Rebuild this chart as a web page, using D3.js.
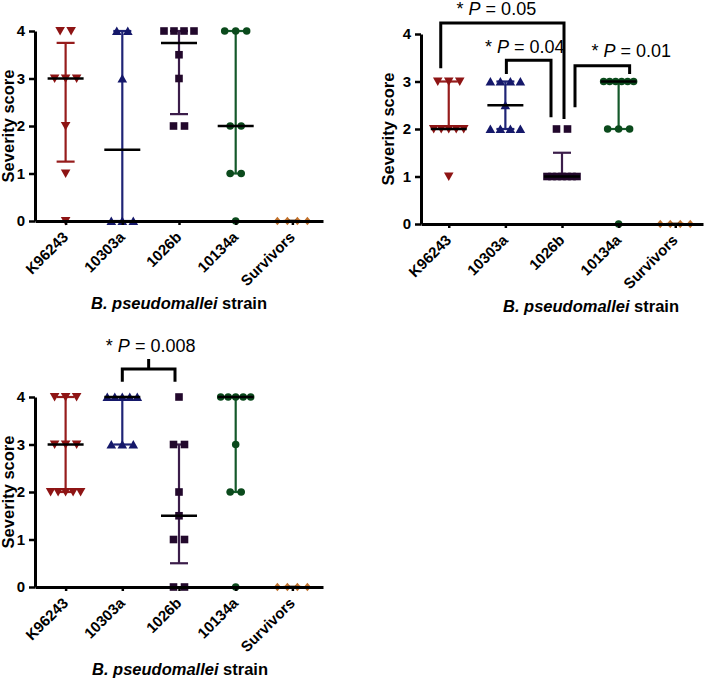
<!DOCTYPE html>
<html>
<head>
<meta charset="utf-8">
<script src="https://cdn.jsdelivr.net/npm/d3@7"></script>
<style>
  body { margin: 0; background: #fff; }
  svg { display: block; font-family: Arial, "Liberation Sans", sans-serif; }
</style>
</head>
<body>
<div id="chart"></div>
<script>
// Severity scores per strain, three experiments (A, B, C)

const categories = ['K96243', '10303a', '1026b', '10134a', 'Survivors'];
const yTicks = [0, 1, 2, 3, 4];

const scoresA = [
  [4, 4, 3, 3, 3, 2, 1, 0],
  [4, 4, 3, 0, 0, 0],
  [4, 4, 4, 4, 3.5, 3, 2, 2],
  [4, 4, 4, 2, 2, 1, 1, 0],
  [0, 0, 0, 0]
];
const medianA = [3, 1.5, 3.75, 2, 0];
const q1A = [1.25, 0, 2.25, 1, 0];
const q3A = [3.75, 4, 4, 4, 0];

const scoresB = [
  [3, 3, 3, 2, 2, 2, 2, 2, 1],
  [3, 3, 3, 3, 2.5, 2, 2, 2, 2],
  [2, 2, 1, 1, 1, 1, 1, 1, 1],
  [3, 3, 3, 3, 3, 3, 2, 2, 2, 0],
  [0, 0, 0, 0]
];
const medianB = [2, 2.5, 1, 3, 0];
const q1B = [2, 2, 1, 2, 0];
const q3B = [3, 3, 1.5, 3, 0];

const scoresC = [
  [4, 4, 4, 3, 3, 3, 2, 2, 2, 2, 2],
  [4, 4, 4, 4, 4, 3, 3, 3],
  [4, 3, 3, 2, 1.5, 1, 1, 0, 0],
  [4, 4, 4, 4, 4, 3, 2, 2, 0],
  [0, 0, 0, 0]
];
const medianC = [3, 4, 1.5, 4, 0];
const q1C = [2, 3, 0.5, 2, 0];
const q3C = [4, 4, 3, 4, 0];

// significance brackets (leg heights / top in score units)
const bracketsB = [
  { p: '0.05', from: 'K96243', to: '1026b', legFrom: 3.28, legTo: 2.21, top: 4.23, textY: 4.39 },
  { p: '0.04', from: '10303a', to: '1026b', legFrom: 3.16, legTo: 2.25, top: 3.45, textY: 3.6 },
  { p: '0.01', from: '1026b', to: '10134a', legFrom: 2.46, legTo: 3.16, top: 3.33, textY: 3.52 }
];
const bracketsC = [
  { p: '0.008', from: '10303a', to: '1026b', legFrom: 4.32, legTo: 4.32, top: 4.59, stem: 4.8, textY: 4.95 }
];

const markerColors = ['#8e1414', '#15186a', '#22082c', '#0b4a1c', '#c0702a'];
const lineColors = ['#961c1c', '#1f2476', '#3b1d4a', '#14592a', '#c0702a'];
const markerShapes = ['down', 'up', 'square', 'circle', 'diamond'];

const W = 709, H = 678;
const svg = d3.select('#chart').append('svg').attr('width', W).attr('height', H);
svg.append('rect').attr('width', W).attr('height', H).attr('fill', '#fff');

function markerPath(shape) {
  switch (shape) {
    case 'down': return 'M-4.8,-4L4.8,-4L0,4.4Z';
    case 'up': return 'M-4.8,4L4.8,4L0,-4.4Z';
    case 'square': return 'M-3.8,-3.8L3.8,-3.8L3.8,3.8L-3.8,3.8Z';
    case 'circle': return d3.symbol(d3.symbolCircle, 44)();
    case 'diamond': return 'M0,-4.2L3.6,0L0,4.2L-3.6,0Z';
  }
}

function drawPanel(cfg) {
  const { x0, x1, y0, pad, scores, median, q1, q3, titleX, ylabX } = cfg;
  const x = d3.scalePoint().domain(categories).range([x0, x1]).padding(pad);
  const y = d3.scaleLinear().domain([0, 4]).range([y0, y0 - 190]);
  const g = svg.append('g');

  // error bars (interquartile range)
  categories.forEach((c, i) => {
    const cx = x(c);
    const col = lineColors[i];
    g.append('line').attr('x1', cx).attr('x2', cx).attr('y1', y(q1[i])).attr('y2', y(q3[i]))
      .attr('stroke', col).attr('stroke-width', 2.2);
    [q1[i], q3[i]].forEach(v => {
      g.append('line').attr('x1', cx - 9).attr('x2', cx + 9).attr('y1', y(v)).attr('y2', y(v))
        .attr('stroke', col).attr('stroke-width', 2.2);
    });
  });

  // scatter points, spread sideways when they share a score
  categories.forEach((c, i) => {
    const groups = d3.group(scores[i], v => v);
    groups.forEach((vals, v) => {
      const k = vals.length;
      const step = k > 1 ? Math.min(11, 30 / (k - 1)) : 0;
      vals.forEach((_, j) => {
        const px = x(c) + (j - (k - 1) / 2) * step;
        g.append('path').attr('d', markerPath(markerShapes[i]))
          .attr('transform', `translate(${px},${y(v)})`)
          .attr('fill', markerColors[i]);
      });
    });
  });

  // medians
  categories.forEach((c, i) => {
    const cx = x(c);
    const hw = i === 4 ? 4 : 18;
    g.append('line').attr('x1', cx - hw).attr('x2', cx + hw).attr('y1', y(median[i])).attr('y2', y(median[i]))
      .attr('stroke', '#000').attr('stroke-width', 2.5);
  });

  // axes
  const yAxis = g.append('g').attr('transform', `translate(${x0},0)`)
    .call(d3.axisLeft(y).tickValues(yTicks).tickFormat(d3.format('d')).tickSize(6).tickSizeOuter(0).tickPadding(4));
  const xAxis = g.append('g').attr('transform', `translate(0,${y0})`)
    .call(d3.axisBottom(x).tickSize(4).tickSizeOuter(0));
  [yAxis, xAxis].forEach(a => {
    a.select('.domain').attr('stroke-width', 3).attr('stroke', '#000');
    a.selectAll('.tick line').attr('stroke-width', 2.5).attr('stroke', '#000');
    a.selectAll('text').attr('fill', '#000').attr('font-weight', 'bold').attr('font-size', 15)
      .attr('font-family', 'Arial, "Liberation Sans", sans-serif');
  });
  xAxis.selectAll('.tick text')
    .attr('x', 0).attr('y', 0).attr('dy', 0)
    .attr('text-anchor', 'end')
    .attr('transform', 'translate(3,17) rotate(-45)');

  // axis titles
  g.append('text').attr('transform', `translate(${ylabX},${y0 - 95}) rotate(-90)`)
    .attr('text-anchor', 'middle').attr('font-weight', 'bold').attr('font-size', 16.5)
    .text('Severity score');
  const t = g.append('text').attr('x', titleX).attr('y', y0 + 88)
    .attr('text-anchor', 'middle').attr('font-weight', 'bold').attr('font-size', 16.5);
  t.append('tspan').attr('font-style', 'italic').text('B. pseudomallei');
  t.append('tspan').text(' strain');

  // significance brackets
  (cfg.brackets || []).forEach(b => {
    const xa = x(b.from) + (b.dxFrom || 0), xb = x(b.to) + (b.dxTo || 0);
    let d = `M${xa},${y(b.legFrom)}V${y(b.top)}H${xb}V${y(b.legTo)}`;
    if (b.stem) d += `M${(xa + xb) / 2},${y(b.top)}V${y(b.stem)}`;
    g.append('path').attr('d', d).attr('fill', 'none').attr('stroke', '#000').attr('stroke-width', 3);
    const tx = (xa + xb) / 2 + (b.textDx || 0);
    const lab = g.append('text').attr('x', tx).attr('y', y(b.textY))
      .attr('text-anchor', 'middle').attr('font-size', 18);
    lab.append('tspan').text('* ');
    lab.append('tspan').attr('font-style', 'italic').text('P');
    lab.append('tspan').text(' = ' + b.p);
  });
}

// horizontal nudges for bracket legs (px)
bracketsB[0].dxFrom = -8; bracketsB[0].dxTo = 2; bracketsB[0].textDx = -6;
bracketsB[1].dxFrom = 1; bracketsB[1].dxTo = -11; bracketsB[1].textDx = -4;
bracketsB[2].dxFrom = 13; bracketsB[2].dxTo = 11; bracketsB[2].textDx = 29;
bracketsC[0].dxFrom = 0; bracketsC[0].dxTo = -4; bracketsC[0].textDx = 2;

drawPanel({ x0: 35, x1: 323, y0: 221, pad: 0.54, scores: scoresA, median: medianA, q1: q1A, q3: q3A, titleX: 179, ylabX: 14, brackets: [] });
drawPanel({ x0: 421, x1: 703, y0: 224, pad: 0.49, scores: scoresB, median: medianB, q1: q1B, q3: q3B, titleX: 591, ylabX: 394, brackets: bracketsB });
drawPanel({ x0: 35, x1: 323, y0: 587, pad: 0.54, scores: scoresC, median: medianC, q1: q1C, q3: q3C, titleX: 180, ylabX: 14, brackets: bracketsC });
</script>
</body>
</html>
